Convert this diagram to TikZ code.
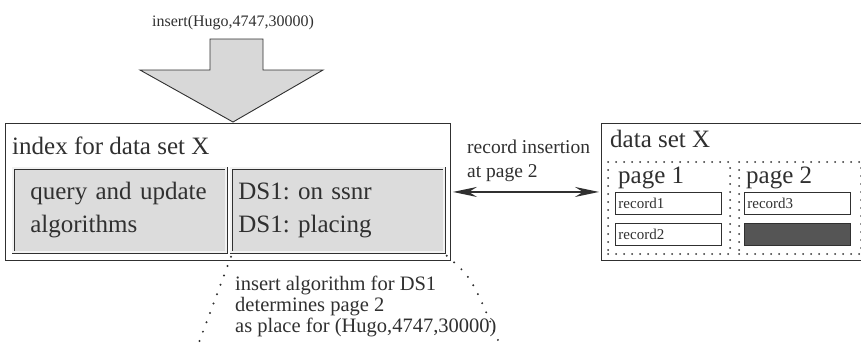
\documentclass[tikz,border=0pt]{standalone}
\usepackage{fontspec}
\setmainfont{Liberation Serif}
\usepackage{tikz}
\usetikzlibrary{arrows.meta,positioning}
\frenchspacing
\definecolor{ink}{HTML}{303030}
\definecolor{fillgray}{HTML}{DCDCDC}
\definecolor{arrowgray}{HTML}{D8D8D8}
\definecolor{darkrec}{HTML}{555555}
\definecolor{bk10}{HTML}{F2F2F2}
\tikzset{
  framebox/.style={
    rectangle, draw=ink, line width=0.9pt, fill=white,
    anchor=north west, inner sep=0pt
  },
  algobox/.style={
    rectangle, draw=ink, line width=0.7pt, double=bk10,
    double distance=2pt, fill=fillgray,
    anchor=north west, minimum width=213pt, minimum height=84pt,
    align=left, font=\fontsize{25}{33}\selectfont, text=ink
  },
  pagebox/.style={
    rectangle, draw=ink, line width=2pt, line cap=round,
    dash pattern=on 0pt off 8pt,
    minimum width=122pt, minimum height=92pt, inner sep=0pt
  },
  recbox/.style={
    rectangle, draw=ink, line width=0.9pt, fill=#1,
    minimum width=106pt, minimum height=22pt, inner sep=0pt,
    font=\fontsize{15}{18}\selectfont, text=ink
  },
  recbox/.default=white,
  bigtext/.style={
    anchor=base west, inner sep=0pt, text=ink,
    font=\fontsize{25}{33}\selectfont
  },
  % multi-line: base is the last line
  smalltext/.style={
    anchor=base west, inner sep=0pt, text=ink, align=left
  },
  linkarrow/.style={
    {Stealth[length=24pt,width=10pt,inset=8pt]}-{Stealth[length=24pt,width=10pt,inset=8pt]},
    line width=1.8pt, draw=ink, shorten <=2pt, shorten >=2pt
  },
  dotline/.style={
    draw=ink, line width=2.2pt, line cap=round, dash pattern=on 0pt off 10pt
  },
}
\begin{document}
\begin{tikzpicture}[x=1pt,y=-1pt]
  \useasboundingbox (0,0) rectangle (861,349);

  % Request and the big arrow
  \node[smalltext, font=\fontsize{16}{19}\selectfont] (req) at (152,26)
    {insert(Hugo,4747,30000)};
  \draw[draw=ink, line width=0.9pt, fill=arrowgray, line join=miter]
    (210,39) -- (263,39) -- (263,70) -- (323,70) -- (233,122)
    -- (140,70) -- (210,70) -- cycle;

  % Index
  \node[framebox, minimum width=445pt, minimum height=137pt] (idx) at (5,123) {};
  \node[bigtext] (idxtitle) at (12,154) {index for data set X};
  \node[algobox, inner xsep=17pt, text width=179pt] (algo) at (13,168)
    {query and update\\algorithms};
  \node[algobox, inner xsep=7pt, text width=199pt] (ds1) at (231,168)
    {DS1: on ssnr\\DS1: placing};

  % Data set with its pages
  \node[framebox, minimum width=270pt, minimum height=137pt] (ds) at (601,123) {};
  \node[bigtext] (dstitle) at (610,147) {data set X};
  \node[pagebox, anchor=north west] (page1) at (607,161) {};
  \node[pagebox, right=7pt of page1] (page2) {};
  \node[bigtext] (p1title) at (618,183) {page 1};
  \node[bigtext] (p2title) at (746,183) {page 2};

  \node[recbox, anchor=north west, text width=100pt, align=left] (rec1) at (615,192) {record1};
  \node[recbox, below=8pt of rec1, text width=100pt, align=left] (rec2) {record2};
  \node[recbox, right=22pt of rec1, text width=100pt, align=left] (rec3) {record3};
  \node[recbox=darkrec, below=8pt of rec3] (newrec) {};

  \draw[linkarrow] (idx.east) -- (ds.west);
  \node[smalltext, font=\fontsize{19.5}{24}\selectfont] (ins) at (467,177)
    {record insertion\\at page 2};

  % Explanation of DS1
  \coordinate (lend) at (198,345);
  \coordinate (rend) at (500,345);
  \draw[dotline] (ds1.south west) ++(0,4) -- (lend);
  \draw[dotline] (ds1.south east) ++(2,3) .. controls (472,278) .. (rend);
  \node[smalltext, font=\fontsize{20.5}{21}\selectfont] (expl) at (235,332)
    {insert algorithm for DS1\\determines page 2\\as place for (Hugo,4747,30000)};
\end{tikzpicture}
\end{document}
